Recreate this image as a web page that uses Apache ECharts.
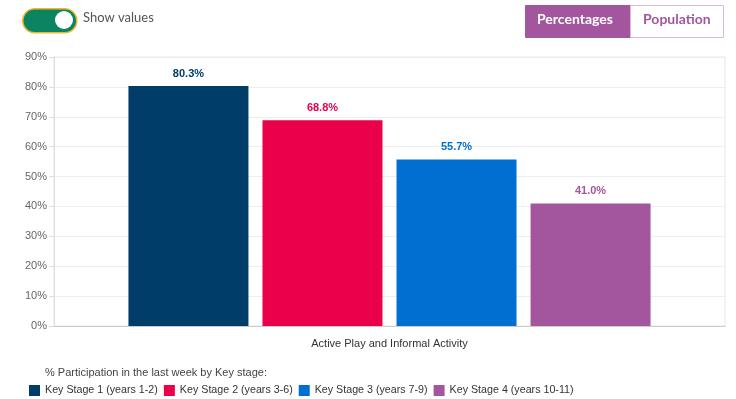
<!DOCTYPE html>
<html>
<head>
<meta charset="utf-8">
<script src="https://cdn.jsdelivr.net/npm/echarts@6/dist/echarts.min.js"></script>
<style>
  html, body { margin: 0; padding: 0; background: #fff; }
  #chart { width: 736px; height: 399px; }
</style>
</head>
<body>
<div id="chart"></div>
<script>
var categories = ['Active Play and Informal Activity'];
var stageNames = ['Key Stage 1 (years 1-2)', 'Key Stage 2 (years 3-6)', 'Key Stage 3 (years 7-9)', 'Key Stage 4 (years 10-11)'];
var stageValues = [80.3, 68.8, 55.7, 41.0];
var stageColors = ['#003e69', '#ea004b', '#0070d0', '#a3569d'];
var yTicks = [0, 10, 20, 30, 40, 50, 60, 70, 80, 90];

var FONT = 'Liberation Sans, Arial, sans-serif';
var myChart = echarts.init(document.getElementById('chart'));

var series = stageNames.map(function (name, i) {
    return {
        name: name,
        type: 'bar',
        barWidth: 120,
        barGap: '11.7%',
        data: [stageValues[i]],
        itemStyle: { color: stageColors[i] },
        label: {
            show: true,
            position: 'top',
            distance: 7,
            color: stageColors[i],
            fontWeight: 'bold',
            fontSize: 11,
            fontFamily: FONT,
            formatter: function (p) { return p.value.toFixed(1) + '%'; }
        }
    };
});

var option = {
    animation: false,
    textStyle: { fontFamily: FONT },
    grid: {
        left: 54, right: 11, top: 57, bottom: 73,
        show: true, borderColor: '#e6e6e6', borderWidth: 1
    },
    xAxis: {
        type: 'category',
        data: categories,
        axisLine: { lineStyle: { color: '#cccccc' } },
        axisTick: { show: false },
        axisLabel: { color: '#333', fontSize: 11, margin: 12, fontFamily: FONT }
    },
    yAxis: {
        type: 'value',
        min: yTicks[0],
        max: yTicks[yTicks.length - 1],
        interval: 10,
        axisLine: { show: true, lineStyle: { color: '#dddddd' } },
        axisTick: { show: true, length: 5, lineStyle: { color: '#dddddd' } },
        axisLabel: { color: '#666', fontSize: 11, margin: 7, fontFamily: FONT, formatter: '{value}%' },
        splitLine: { lineStyle: { color: '#eeeeee' } }
    },
    legend: {
        data: stageNames,
        left: 29,
        top: 385,
        padding: 0,
        icon: 'rect',
        itemWidth: 11,
        itemHeight: 11,
        itemGap: 6,
        textStyle: { color: '#333', fontSize: 10.7, fontFamily: FONT, padding: [0, 0, 0, 0] }
    },
    graphic: [
        {
            type: 'text', left: 45, top: 367,
            style: { text: '% Participation in the last week by Key stage:', fill: '#444', fontSize: 11, fontFamily: FONT }
        },
        {
            type: 'rect', left: 22, top: 8,
            shape: { width: 54, height: 24, r: 12 },
            style: { fill: '#0b8461', stroke: '#f3b52c', lineWidth: 1.5 }
        },
        {
            type: 'circle', left: 55, top: 11,
            shape: { r: 9 },
            style: { fill: '#ffffff' }
        },
        {
            type: 'text', left: 83, top: 11,
            style: { text: 'Show values', fill: '#555', fontSize: 13, fontFamily: 'Lato, Noto Sans, sans-serif' }
        },
        {
            type: 'rect', left: 525, top: 5,
            shape: { width: 105, height: 32 },
            style: { fill: '#a3569d', stroke: '#a3569d', lineWidth: 1 }
        },
        {
            type: 'text', left: 537, top: 12,
            style: { text: 'Percentages', fill: '#ffffff', fontSize: 14, fontWeight: 'bold', fontFamily: 'Lato, Noto Sans, sans-serif' }
        },
        {
            type: 'rect', left: 630, top: 5,
            shape: { width: 93, height: 32 },
            style: { fill: '#ffffff', stroke: '#dcb8d9', lineWidth: 1 }
        },
        {
            type: 'text', left: 643, top: 12,
            style: { text: 'Population', fill: '#a3569d', fontSize: 14, fontWeight: 'bold', fontFamily: 'Lato, Noto Sans, sans-serif' }
        }
    ],
    series: series
};
myChart.setOption(option);
</script>
</body>
</html>
